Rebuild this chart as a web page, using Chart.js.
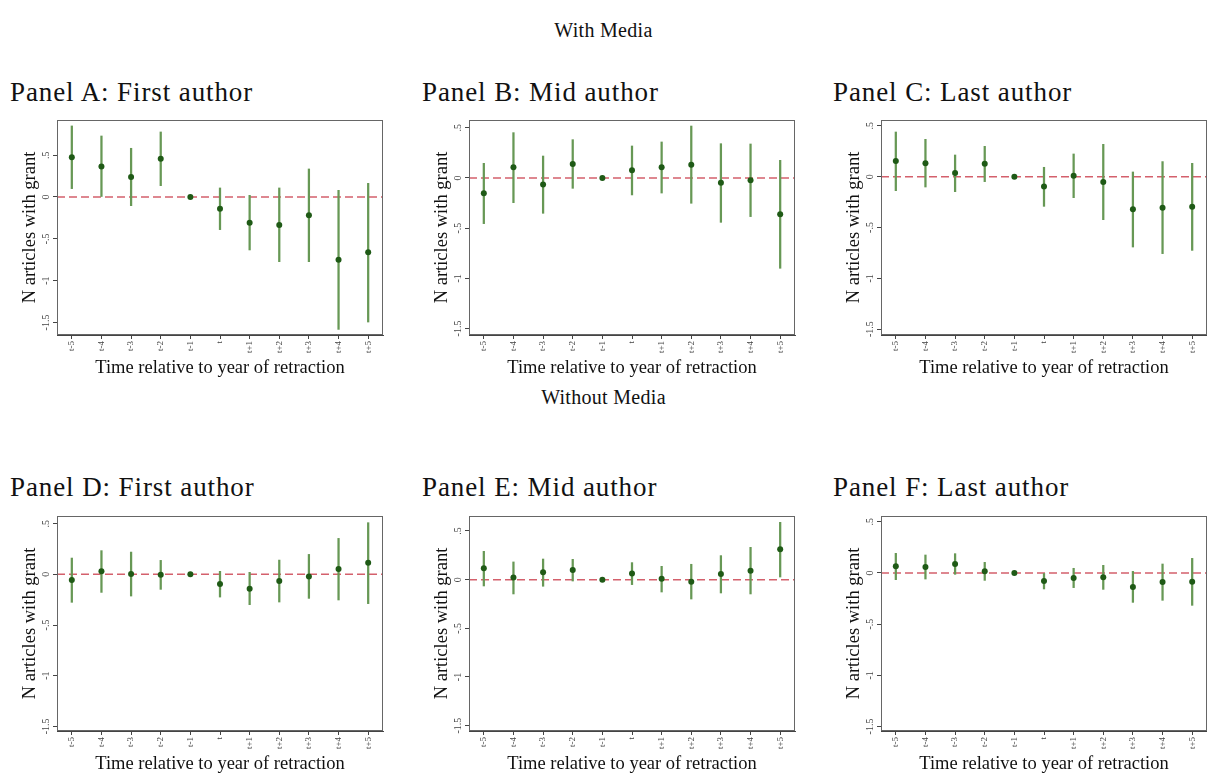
<!DOCTYPE html>
<html>
<head>
<meta charset="utf-8">
<script src="https://cdn.jsdelivr.net/npm/chart.js@4.4.0/dist/chart.umd.min.js"></script>
<style>
  body { margin: 0; width: 1207px; height: 774px; overflow: hidden; background: #fff; position: relative; font-family: "Liberation Serif", serif; color: #111; }
  .head { position: absolute; left: 0; width: 1207px; text-align: center; font-size: 20px; line-height: 20px; letter-spacing: 0.3px; }
  .ptitle { position: absolute; font-size: 27px; line-height: 27px; white-space: nowrap; letter-spacing: 0.9px; }
  canvas { position: absolute; }
</style>
</head>
<body>
<div class="head" style="top:20px">With Media</div>
<div class="head" style="top:387px">Without Media</div>

<div class="ptitle" style="left:10px;top:79px">Panel A: First author</div>
<div class="ptitle" style="left:422px;top:79px">Panel B: Mid author</div>
<div class="ptitle" style="left:833px;top:79px">Panel C: Last author</div>
<div class="ptitle" style="left:10px;top:474px">Panel D: First author</div>
<div class="ptitle" style="left:422px;top:474px">Panel E: Mid author</div>
<div class="ptitle" style="left:833px;top:474px">Panel F: Last author</div>

<canvas id="pA" width="390" height="270" style="left:-3px;top:110px"></canvas>
<canvas id="pB" width="390" height="270" style="left:409px;top:110px"></canvas>
<canvas id="pC" width="390" height="270" style="left:821px;top:110px"></canvas>
<canvas id="pD" width="390" height="270" style="left:-3px;top:506px"></canvas>
<canvas id="pE" width="390" height="270" style="left:409px;top:506px"></canvas>
<canvas id="pF" width="390" height="270" style="left:821px;top:506px"></canvas>

<script>
const periods = ['t-5', 't-4', 't-3', 't-2', 't-1', 't', 't+1', 't+2', 't+3', 't+4', 't+5'];
const yTickValues = [-1.5, -1, -0.5, 0, 0.5];
const yTickLabels = ['-1.5', '-1', '-.5', '0', '.5'];

// With media
const estA = [0.474, 0.363, 0.239, 0.458, 0, -0.139, -0.307, -0.335, -0.219, -0.749, -0.661];
const loA  = [0.100, 0.000, -0.104, 0.135, 0, -0.390, -0.633, -0.773, -0.773, -1.582, -1.494];
const hiA  = [0.849, 0.729, 0.582, 0.777, 0, 0.108, 0.020, 0.108, 0.335, 0.080, 0.163];

const estB = [-0.153, 0.106, -0.066, 0.140, 0, 0.076, 0.106, 0.133, -0.047, -0.023, -0.362];
const loB  = [-0.455, -0.246, -0.352, -0.103, 0, -0.169, -0.150, -0.252, -0.442, -0.385, -0.900];
const hiB  = [0.146, 0.452, 0.219, 0.382, 0, 0.319, 0.359, 0.518, 0.342, 0.339, 0.176];

const estC = [0.154, 0.131, 0.036, 0.128, 0, -0.098, 0.010, -0.052, -0.321, -0.305, -0.295];
const loC  = [-0.138, -0.102, -0.148, -0.049, 0, -0.292, -0.207, -0.423, -0.692, -0.757, -0.725];
const hiC  = [0.439, 0.367, 0.213, 0.298, 0, 0.092, 0.223, 0.318, 0.046, 0.148, 0.131];

// Without media
const estD = [-0.056, 0.030, 0.003, -0.003, 0, -0.095, -0.141, -0.066, -0.020, 0.053, 0.115];
const loD  = [-0.276, -0.178, -0.214, -0.148, 0, -0.224, -0.299, -0.273, -0.237, -0.253, -0.289];
const hiD  = [0.161, 0.234, 0.220, 0.138, 0, 0.030, 0.020, 0.141, 0.197, 0.355, 0.510];

const estE = [0.116, 0.021, 0.075, 0.099, 0, 0.062, 0.010, -0.021, 0.058, 0.092, 0.312];
const loE  = [-0.065, -0.147, -0.068, -0.014, 0, -0.051, -0.127, -0.199, -0.137, -0.147, 0.027];
const hiE  = [0.291, 0.182, 0.212, 0.209, 0, 0.175, 0.137, 0.158, 0.247, 0.332, 0.589];

const estF = [0.065, 0.059, 0.088, 0.016, 0, -0.078, -0.049, -0.042, -0.137, -0.088, -0.085];
const loF  = [-0.065, -0.059, -0.013, -0.072, 0, -0.156, -0.143, -0.160, -0.287, -0.267, -0.316];
const hiF  = [0.192, 0.176, 0.189, 0.104, 0, 0.000, 0.046, 0.075, 0.016, 0.088, 0.143];

// y-axis ranges [min, max] per panel
const rangeA = [-1.649, 0.920];
const rangeB = [-1.565, 0.578];
const rangeC = [-1.557, 0.557];
const rangeD = [-1.546, 0.576];
const rangeE = [-1.555, 0.654];
const rangeF = [-1.544, 0.557];

const serif = '"Liberation Serif", serif';

// plot box + dashed zero line + rotated y tick labels
const stataLook = {
    id: 'stataLook',
    beforeDatasetsDraw(chart) {
        const {ctx, chartArea, scales} = chart;
        const y0 = scales.y.getPixelForValue(0);
        ctx.save();
        ctx.strokeStyle = '#d4606c';
        ctx.lineWidth = 1.5;
        ctx.setLineDash([8, 4]);
        ctx.beginPath();
        ctx.moveTo(chartArea.left, y0);
        ctx.lineTo(chartArea.right, y0);
        ctx.stroke();
        ctx.restore();
    },
    afterDraw(chart) {
        const {ctx, chartArea, scales} = chart;
        ctx.save();
        ctx.strokeStyle = '#666';
        ctx.lineWidth = 1;
        ctx.strokeRect(chartArea.left + 0.5, chartArea.top + 0.5,
            chartArea.right - chartArea.left - 1, chartArea.bottom - chartArea.top - 1);
        ctx.fillStyle = '#444';
        ctx.font = '10px ' + serif;
        ctx.textAlign = 'center';
        ctx.textBaseline = 'middle';
        yTickValues.forEach((v, i) => {
            const y = scales.y.getPixelForValue(v);
            ctx.save();
            ctx.translate(chartArea.left - 11, y);
            ctx.rotate(-Math.PI / 2);
            ctx.fillText(yTickLabels[i], 0, 0);
            ctx.restore();
        });
        ctx.restore();
    }
};

function makePanel(id, est, lo, hi, range) {
    new Chart(document.getElementById(id), {
        type: 'bar',
        data: {
            labels: periods,
            datasets: [{
                type: 'line',
                data: est,
                showLine: false,
                pointRadius: 3,
                pointBackgroundColor: '#1f5a16',
                pointBorderWidth: 0,
                order: 1
            }, {
                data: periods.map((_, i) => [lo[i], hi[i]]),
                backgroundColor: '#679855',
                barThickness: 1.6,
                order: 2
            }]
        },
        options: {
            responsive: false,
            animation: false,
            layout: { padding: { top: 10, right: 2, bottom: 1, left: 0 } },
            plugins: { legend: { display: false }, tooltip: { enabled: false } },
            scales: {
                x: {
                    offset: true,
                    grid: { offset: false, drawOnChartArea: false, tickLength: 4, color: '#444' },
                    border: { color: '#444' },
                    ticks: { autoSkip: false, minRotation: 90, maxRotation: 90, padding: 2, color: '#444', font: { family: serif, size: 9 } },
                    title: { display: true, text: 'Time relative to year of retraction', color: '#111', font: { family: serif, size: 18.5 }, padding: 0 },
                    afterFit: s => { s.height = 44; }
                },
                y: {
                    min: range[0],
                    max: range[1],
                    afterBuildTicks: s => { s.ticks = yTickValues.map(v => ({ value: v })); },
                    grid: { drawOnChartArea: false, tickLength: 4, color: '#444' },
                    border: { color: '#444' },
                    ticks: { display: false },
                    title: { display: true, text: 'N articles with grant', color: '#111', font: { family: serif, size: 18.5 }, padding: { top: 22, bottom: 0 } },
                    afterFit: s => { s.width = 60; }
                }
            }
        },
        plugins: [stataLook]
    });
}

makePanel('pA', estA, loA, hiA, rangeA);
makePanel('pB', estB, loB, hiB, rangeB);
makePanel('pC', estC, loC, hiC, rangeC);
makePanel('pD', estD, loD, hiD, rangeD);
makePanel('pE', estE, loE, hiE, rangeE);
makePanel('pF', estF, loF, hiF, rangeF);
</script>
</body>
</html>
